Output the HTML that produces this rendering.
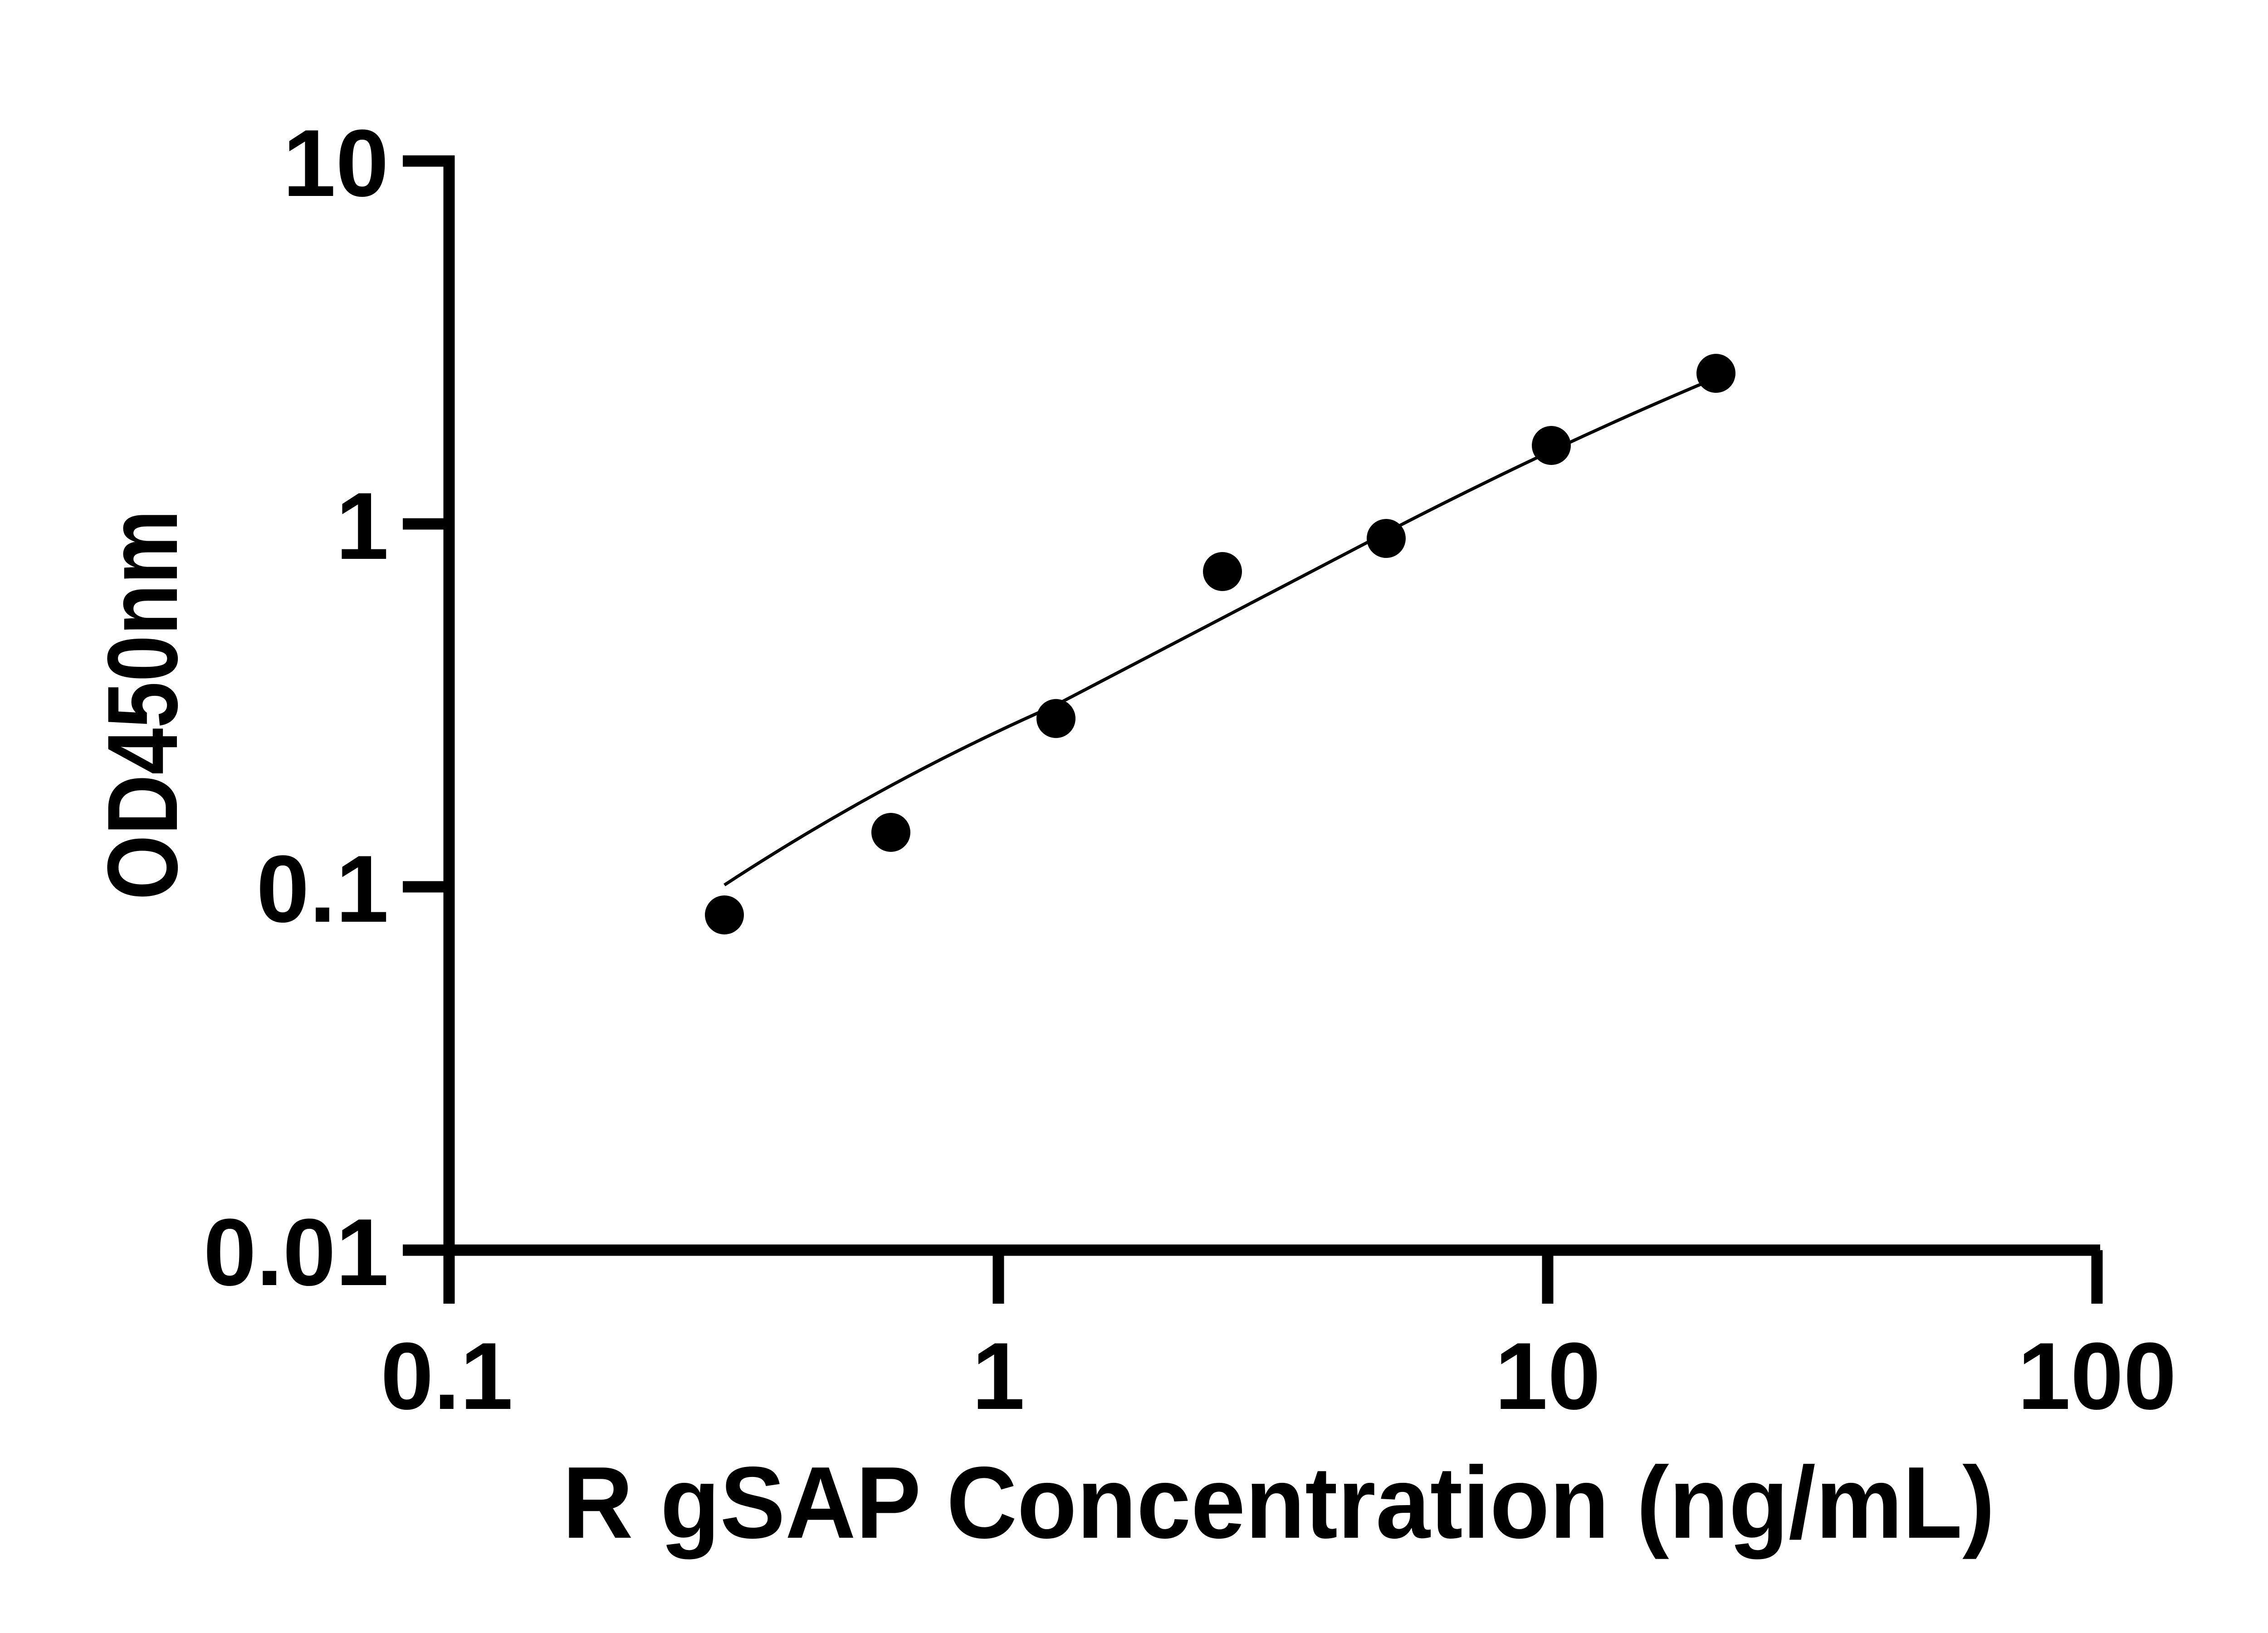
<!DOCTYPE html>
<html><head><meta charset="utf-8"><style>html,body{margin:0;padding:0;background:#fff}svg{display:block}</style></head>
<body>
<svg width="5142" height="3600" viewBox="0 0 5142 3600" xmlns="http://www.w3.org/2000/svg" font-family="Liberation Sans, Arial, sans-serif" font-weight="bold">
<rect width="5142" height="3600" fill="#fff"/>
<g stroke="#000" stroke-width="25" fill="none">
<path d="M888 355 H990 V2756 H4630"/>
<path d="M888 1155 H990 M888 1955 H990 M888 2756 H990"/>
<path d="M990 2756 V2874 M2201 2756 V2874 M3412 2756 V2874 M4623 2756 V2874"/>
</g>
<g font-size="210" fill="#000" text-anchor="end">
<text x="857" y="432">10</text>
<text x="857" y="1232">1</text>
<text x="857" y="2032">0.1</text>
<text x="857" y="2833">0.01</text>
</g>
<g font-size="210" fill="#000" text-anchor="middle">
<text x="985" y="3106">0.1</text>
<text x="2201" y="3106">1</text>
<text x="3412" y="3106">10</text>
<text x="4623" y="3106">100</text>
</g>
<path d="M1597 1951 Q1950 1720 2328 1554 Q2700 1360 3056 1174 Q3420 985 3783 833" stroke="#000" stroke-width="7" fill="none"/>
<g fill="#000">
<circle cx="1597" cy="2017" r="43"/>
<circle cx="1964" cy="1835" r="43"/>
<circle cx="2328" cy="1584" r="43"/>
<circle cx="2695" cy="1260" r="43"/>
<circle cx="3056" cy="1187" r="43"/>
<circle cx="3420" cy="982" r="43"/>
<circle cx="3783" cy="823" r="43"/>
</g>
<text x="2819" y="3390" font-size="225" text-anchor="middle" textLength="3158" lengthAdjust="spacingAndGlyphs">R gSAP Concentration (ng/mL)</text>
<text transform="translate(390,1554) rotate(-90)" font-size="220" text-anchor="middle" textLength="860" lengthAdjust="spacingAndGlyphs">OD450nm</text>
</svg>
</body></html>
